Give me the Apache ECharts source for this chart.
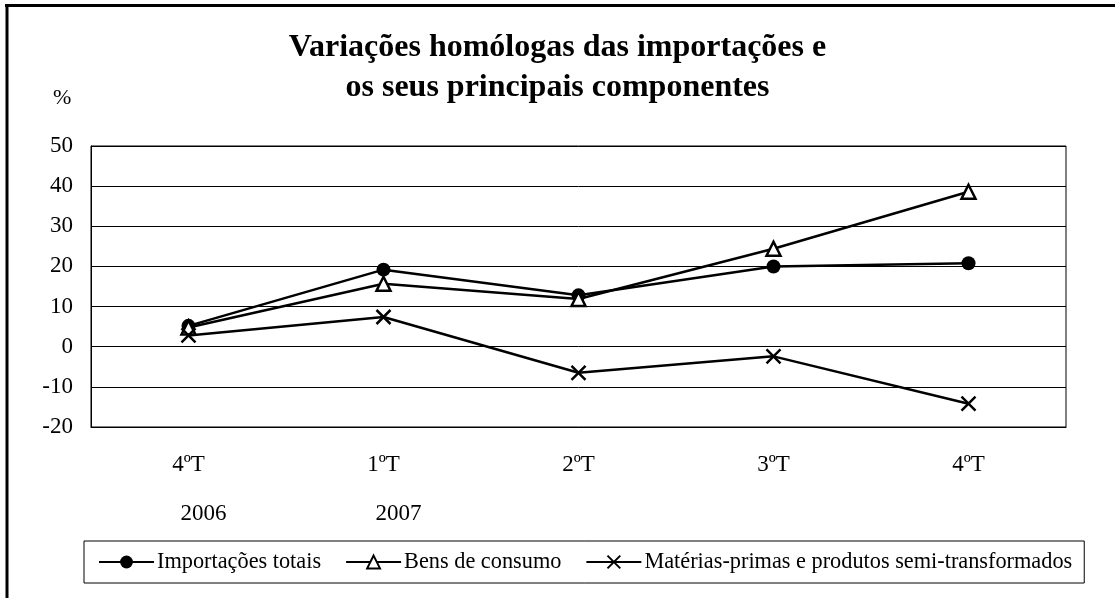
<!DOCTYPE html>
<html>
<head>
<meta charset="utf-8">
<script src="https://cdn.jsdelivr.net/npm/echarts@6/dist/echarts.min.js"></script>
<style>
  html, body { margin: 0; padding: 0; background: #fff; }
  #chart { width: 1115px; height: 598px; }
</style>
</head>
<body>
<div id="chart"></div>
<script>
// quarters and years under the axis
const quarters = ['4ºT', '1ºT', '2ºT', '3ºT', '4ºT']
const years = ['2006', '2007', '', '', '']
const categories = ['4ºT 2006', '1ºT 2007', '2ºT 2007', '3ºT 2007', '4ºT 2007']

// variações homólogas (%)
const importacoesTotais = [5.2, 19.2, 12.8, 20.0, 20.8]
const bensConsumo = [4.8, 15.7, 11.9, 24.4, 38.6]
const materiasPrimas = [2.8, 7.4, -6.5, -2.4, -14.2]

const FONT = '"Liberation Serif", "Times New Roman", serif'

let chart = echarts.init(document.getElementById('chart'))

let option = {
    animation: false,
    backgroundColor: '#fff',
    title: {
        text: 'Variações homólogas das importações e\nos seus principais componentes',
        left: 'center',
        top: 28,
        padding: 0,
        textStyle: {
            fontFamily: FONT,
            fontWeight: 'bold',
            fontSize: 32,
            lineHeight: 40,
            color: '#000'
        }
    },
    graphic: [
        // frame (left and top only)
        { type: 'line', shape: { x1: 7, y1: 4, x2: 7, y2: 598 }, style: { stroke: '#000', lineWidth: 3 } },
        { type: 'line', shape: { x1: 5, y1: 5.5, x2: 1115, y2: 5.5 }, style: { stroke: '#000', lineWidth: 3 } },
        { type: 'text', left: 53, top: 87, style: { text: '%', font: '22px ' + FONT, fill: '#000' } }
    ],
    legend: {
        left: 84,
        top: 541,
        padding: [10, 12, 10, 14],
        borderColor: '#000',
        borderWidth: 1,
        itemWidth: 55,
        itemHeight: 16,
        itemGap: 24,
        textStyle: { fontFamily: FONT, fontSize: 22.3, color: '#000', padding: [0, 0, 0, -2] },
        data: ['Importações totais', 'Bens de consumo', 'Matérias-primas e produtos semi-transformados']
    },
    grid: {
        left: 91,
        right: 49,
        top: 146,
        bottom: 171,
        show: true,
        borderColor: '#000',
        borderWidth: 1
    },
    xAxis: {
        type: 'category',
        data: categories,
        boundaryGap: true,
        axisLine: { onZero: false, lineStyle: { color: '#000' } },
        axisTick: { show: false },
        axisLabel: {
            margin: 26,
            interval: 0,
            formatter: function (v, i) {
                let s = '{q|' + quarters[i] + '}'
                if (years[i]) s += '\n{y|' + years[i] + '}'
                return s
            },
            rich: {
                q: { fontFamily: FONT, fontSize: 23, color: '#000', lineHeight: 24.5 },
                y: { fontFamily: FONT, fontSize: 23, color: '#000', lineHeight: 73.5, padding: [0, 0, 0, 30] }
            }
        }
    },
    yAxis: {
        type: 'value',
        min: -20,
        max: 50,
        interval: 10,
        axisLine: { show: true, lineStyle: { color: '#000' } },
        axisTick: { show: false },
        axisLabel: { margin: 18, fontFamily: FONT, fontSize: 23, color: '#000' },
        splitLine: { lineStyle: { color: '#000', width: 1 } }
    },
    series: [
        {
            name: 'Importações totais',
            type: 'line',
            data: importacoesTotais,
            symbol: 'circle',
            symbolSize: 14,
            lineStyle: { color: '#000', width: 2.5 },
            itemStyle: { color: '#000', borderColor: '#000', borderWidth: 0 }
        },
        {
            name: 'Bens de consumo',
            type: 'line',
            data: bensConsumo,
            symbol: 'triangle',
            symbolSize: 14,
            lineStyle: { color: '#000', width: 2.5 },
            itemStyle: { color: '#fff', borderColor: '#000', borderWidth: 2.5 }
        },
        {
            name: 'Matérias-primas e produtos semi-transformados',
            type: 'line',
            data: materiasPrimas,
            symbol: 'path://M0,0L10,10M10,0L0,10',
            symbolSize: 14,
            lineStyle: { color: '#000', width: 2.5 },
            itemStyle: { color: 'none', borderColor: '#000', borderWidth: 2.5 }
        }
    ]
}
chart.setOption(option)
</script>
</body>
</html>
